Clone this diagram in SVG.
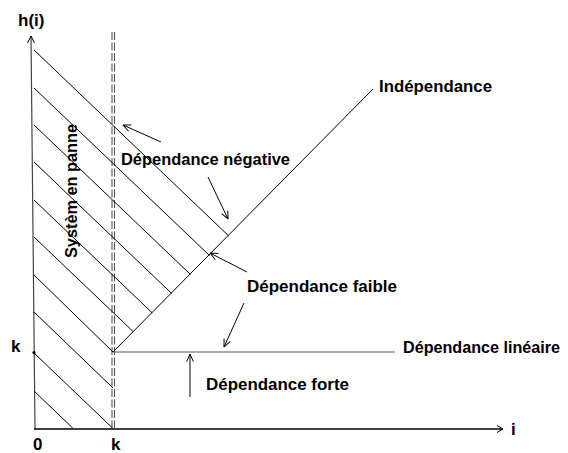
<svg xmlns="http://www.w3.org/2000/svg" width="568" height="453" viewBox="0 0 568 453">
<defs>
<marker id="ah" viewBox="0 0 10 10" refX="9.5" refY="5" markerWidth="9" markerHeight="9" markerUnits="userSpaceOnUse" orient="auto">
<path d="M1,1.2 L9.5,5 L1,8.8" fill="none" stroke="#000" stroke-width="1.1"/>
</marker>
</defs>
<style>
text{font-family:"Liberation Sans",Arial,sans-serif;font-weight:bold;font-size:17px;fill:#000}
.h{stroke:#000;stroke-width:1;fill:none}
.ax{stroke:#000;stroke-width:1.3;fill:none}
.dash{stroke:#555;stroke-width:1.1;stroke-dasharray:8 2.5;fill:none}
.ptr{stroke:#000;stroke-width:1;fill:none;marker-end:url(#ah)}
</style>
<rect width="568" height="453" fill="#fff"/>
<g id="axes">
<line x1="31" y1="36" x2="35" y2="429" stroke="#444" stroke-width="1.2"/>
<polyline points="27.5,43 31,36 34.5,43" class="h" stroke="#444"/>
<line x1="34" y1="429" x2="503" y2="429" class="ax"/>
<polyline points="497,425.5 503,429 497,432.5" class="h"/>
<circle cx="34" cy="352.5" r="1.6" fill="#000"/>
</g>
<g id="dashed-k">
<line x1="112" y1="32" x2="112" y2="430" class="dash"/>
<line x1="114.5" y1="32" x2="114.5" y2="430" class="dash"/>
</g>
<g id="hatching">
<line x1="34" y1="50" x2="228.9" y2="236.1" class="h"/>
<line x1="34" y1="88" x2="209.5" y2="255.5" class="h"/>
<line x1="34" y1="125" x2="190.5" y2="274.5" class="h"/>
<line x1="34" y1="162" x2="171.6" y2="293.4" class="h"/>
<line x1="34" y1="200" x2="152.2" y2="312.8" class="h"/>
<line x1="34" y1="237" x2="133.3" y2="331.7" class="h"/>
<line x1="34" y1="275" x2="113" y2="352" class="h"/>
<line x1="34" y1="312" x2="113" y2="388" class="h"/>
<line x1="34" y1="353" x2="112.5" y2="428" class="h"/>
<line x1="34" y1="391" x2="72.7" y2="428" class="h"/>
</g>
<g id="curves">
<line x1="113" y1="352" x2="373" y2="89" class="h"/>
<line x1="113" y1="352" x2="395" y2="352" stroke="#555" stroke-width="1.2"/>
</g>
<g id="connectors">
<line x1="161" y1="142" x2="123" y2="125" class="ptr"/>
<line x1="208" y1="177" x2="228" y2="219" class="ptr"/>
<line x1="247" y1="272" x2="210" y2="253" class="ptr"/>
<line x1="244" y1="303" x2="224" y2="347" class="ptr"/>
<line x1="190" y1="397" x2="190" y2="354" class="ptr"/>
</g>
<g id="labels">
<text x="18" y="26">h(i)</text>
<text x="11" y="352">k</text>
<text x="33" y="450">0</text>
<text x="111" y="450">k</text>
<text x="511" y="435">i</text>
<text x="379" y="92" textLength="113" lengthAdjust="spacingAndGlyphs">Indépendance</text>
<text x="121" y="165" textLength="169" lengthAdjust="spacingAndGlyphs">Dépendance négative</text>
<text x="247" y="292" textLength="150" lengthAdjust="spacingAndGlyphs">Dépendance faible</text>
<text x="206" y="390" textLength="143" lengthAdjust="spacingAndGlyphs">Dépendance forte</text>
<text x="403" y="353" textLength="157" lengthAdjust="spacingAndGlyphs">Dépendance linéaire</text>
<text transform="translate(77,258) rotate(-90)" textLength="134" lengthAdjust="spacingAndGlyphs">Systèm en panne</text>
</g>
</svg>
